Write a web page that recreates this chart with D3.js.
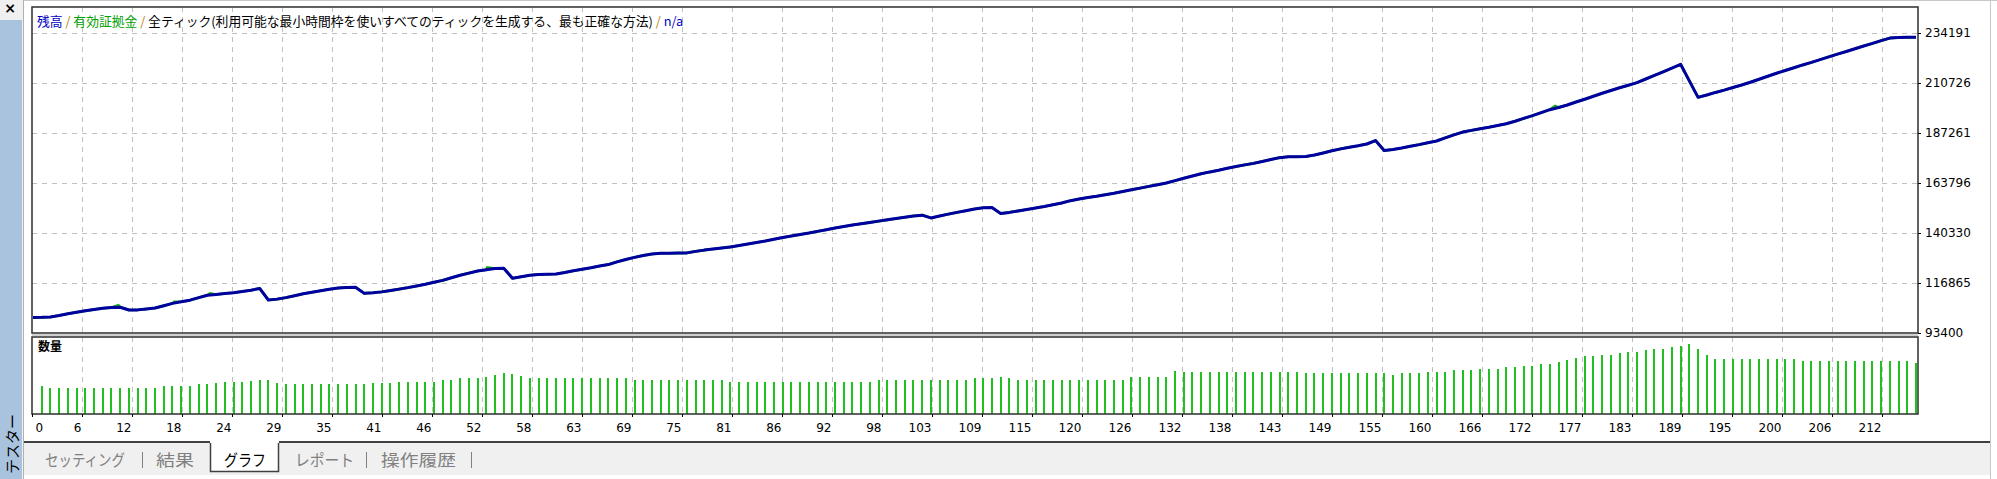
<!DOCTYPE html>
<html><head><meta charset="utf-8">
<script src="https://cdn.jsdelivr.net/npm/d3@7"></script>
<style>
html,body{margin:0;padding:0;background:#fff;}
svg{display:block;}
text{font-family:"DejaVu Sans",sans-serif;}
.jp{font-family:"Noto Sans CJK JP","DejaVu Sans",sans-serif;}
</style></head>
<body>
<svg id="c" width="1997" height="479"></svg>
<script>
// ---- data ----
const balance = [100700,100750,100900,101600,102400,103100,103800,104400,105000,105400,
105500,104200,104250,104700,105100,106200,107300,108100,108800,110000,
111100,111500,111900,112300,112900,113500,114300,108900,109300,110000,
110900,111800,112500,113200,113900,114500,114800,114850,112000,112300,
112700,113300,114000,114700,115500,116300,117200,118100,119300,120500,
121500,122500,123100,123700,123800,119100,119800,120500,120900,121000,
121100,121800,122600,123300,124000,124800,125500,126800,127900,128900,
129800,130500,130800,130850,130900,131000,131700,132300,132800,133300,
133800,134500,135200,135900,136600,137400,138200,138900,139600,140300,
141100,141900,142700,143400,144100,144700,145300,145900,146500,147100,
147700,148300,148700,147400,148300,149200,150000,150800,151600,152200,
152300,149500,150000,150700,151400,152100,152800,153600,154400,155500,
156300,157000,157600,158300,159000,159800,160600,161400,162200,163000,
163800,164900,166000,167100,168100,169000,169800,170700,171500,172300,
173000,173900,174800,175700,176100,176150,176200,176900,177900,178900,
179800,180600,181300,182100,183700,179000,179500,180200,181000,181800,
182700,183500,185000,186400,187700,188500,189300,190000,190800,191600,
192800,194100,195400,196800,198200,199200,200400,201800,203100,204500,
205900,207200,208500,209700,210900,212600,214300,216000,217700,219500,
211700,204000,205100,206300,207400,208600,209800,211100,212500,213900,
215300,216600,217900,219200,220400,221700,223000,224300,225500,226800,
228100,229300,230600,231800,232100,232150,232170];
// floating equity peaks above balance (trade position, equity)
const equityExtra = [[9.8,106400],[16.2,108000],[20.3,112000],[52.1,124200],[174.6,199900]];
// lot size of trades 1..216
const lots = [2.8,
2.6,2.6,2.6,2.6,2.6,2.6,2.6,2.6,2.6,2.6,2.6,2.6,2.6,
2.8,2.8,2.8,2.8, 3.0,3.0, 3.1, 3.2,3.2,3.2, 3.3, 3.4,3.4, 3.1,
3.0,3.0,3.0,3.0,3.0,3.0,3.0,3.0,3.0,3.0,
3.1,3.1,3.1, 3.2,3.2,3.2,3.2,3.2, 3.4,3.4, 3.6,3.6,3.6, 3.7, 3.9, 4.1, 4.0, 3.8,
3.6,3.6,3.6,3.6,3.6,3.6,3.6,3.6,3.6,3.6,3.6,3.6,
3.4,3.4,3.4,3.4,3.4,3.4,3.4,3.4,3.4,3.4,3.4,
3.2,3.2,3.2,3.2,3.2,3.2,3.2,3.2,3.2,3.2,3.2,3.2,3.2,3.2,3.2,3.2,3.2,
3.4,3.4,3.4,3.4,3.4,3.4,3.4,3.4,3.4,3.4,3.4,
3.6,3.6,3.6, 3.7, 3.6,
3.4,3.4,3.4,3.4,3.4,3.4,3.4,3.4,3.4,3.4,3.4,3.4,3.4,
3.7, 3.7,3.7,3.7,3.7, 4.3,
4.2,4.2,4.2,4.2,4.2,4.2,4.2,4.2,4.2,4.2,4.2,4.2,4.2,4.2,
4.1,4.1,4.1,4.1,4.1,4.1,4.1,4.1,4.1,4.1, 3.9, 4.1,4.1,4.1,
4.2,4.2,4.2, 4.4,4.4,4.4, 4.5,4.5,4.5, 4.7,4.7, 4.8,4.8, 5.0,5.0, 5.2, 5.4, 5.6,
5.8,5.8, 5.9,5.9, 6.1, 6.2,6.2, 6.4, 6.5,6.5, 6.7, 6.8, 7.0, 6.5, 5.9,
5.5,5.5,5.5,5.5,5.5,5.5,5.5,5.5,5.5,5.5,
5.3,5.3,5.3,5.3,5.3,5.3,5.3,5.3,5.3,5.3,5.3,5.3,5.3, 5.1];
const yTicks = [93400,116865,140330,163796,187261,210726,234191];
const xLabels = ["0","6","12","18","24","29","35","41","46","52","58","63","69","75","81","86","92","98","103","109","115","120","126","132","138","143","149","155","160","166","172","177","183","189","195","200","206","212"];
const titleParts = [["残高","#0000c0"],[" / ","#c08000"],["有効証拠金","#00a000"],[" / ","#c08000"],["全ティック(利用可能な最小時間枠を使いすべてのティックを生成する、最も正確な方法)","#000"],[" / ","#c08000"],["n/a","#0000c0"]];
const tabs = ["セッティング","結果","グラフ","レポート","操作履歴"];
const lotLabel = "数量";
const sideLabel = "テスター";

// ---- layout ----
const svg = d3.select("#c");
const L = 32, R = 1918, T = 7, B1 = 333, T2 = 337, B2 = 414;

svg.append("rect").attr("width",1997).attr("height",479).attr("fill","#fff");
svg.append("line").attr("x1",24).attr("x2",1997).attr("y1",0.5).attr("y2",0.5).attr("stroke","#c8c8c8");
// left sidebar
svg.append("rect").attr("x",0).attr("y",0).attr("width",23).attr("height",479).attr("fill","#f0f0f0");
svg.append("rect").attr("x",0).attr("y",20).attr("width",22).attr("height",459).attr("fill","#a9c3de");
svg.append("text").attr("x",10).attr("y",13).attr("text-anchor","middle").attr("font-size",14).attr("font-weight","bold").attr("fill","#000").text("×");
svg.append("line").attr("x1",23.5).attr("x2",23.5).attr("y1",0).attr("y2",479).attr("stroke","#b0b0b0");
svg.append("text").attr("class","jp").attr("transform","translate(18,474) rotate(-90)").attr("font-size",15).attr("fill","#000").text(sideLabel);
svg.append("line").attr("x1",1990.5).attr("x2",1990.5).attr("y1",0).attr("y2",479).attr("stroke","#c8c8c8");

// scales
const x = d3.scaleLinear().domain([0, balance.length-1]).range([33, 1916]);
const grid = d3.scaleLinear().domain([0, 1]).range([L, L+50]);
const y = d3.scaleLinear().domain([93400, 234191]).range([B1, 33]);
const ly = d3.scaleLinear().domain([0, 7.7]).range([B2, T2]);

// gridlines
const gU = svg.append("g");
gU.selectAll("line.h").data(yTicks.slice(1)).join("line")
  .attr("x1",L).attr("x2",R).attr("y1",d=>Math.round(y(d))+0.5).attr("y2",d=>Math.round(y(d))+0.5)
  .attr("stroke","#c0c0c0").attr("stroke-dasharray","5,5");
const gridK = d3.range(1, 38);
gU.selectAll("line.v").data(gridK).join("line")
  .attr("x1",d=>grid(d)+0.5).attr("x2",d=>grid(d)+0.5).attr("y1",T).attr("y2",B1)
  .attr("stroke","#c0c0c0").attr("stroke-dasharray","5,5");
svg.append("g").selectAll("line").data(gridK).join("line")
  .attr("x1",d=>grid(d)+0.5).attr("x2",d=>grid(d)+0.5).attr("y1",T2).attr("y2",B2)
  .attr("stroke","#c0c0c0").attr("stroke-dasharray","5,5");

// lines
const pts = balance.map((v,i)=>[i,v]);
const eq = pts.concat(equityExtra).sort((a,b)=>a[0]-b[0]);
const line = d3.line().x(d=>x(d[0])).y(d=>y(d[1]));
svg.append("path").attr("d",line(eq)).attr("fill","none").attr("stroke","#10b010").attr("stroke-width",2.6);
svg.append("path").attr("d",line(pts)).attr("fill","none").attr("stroke","#0000a0").attr("stroke-width",3).attr("stroke-linejoin","round");

// bars
svg.append("g").selectAll("rect").data(lots).join("rect")
  .attr("x",(d,i)=>Math.round(x(i+1))-1).attr("width",2)
  .attr("y",d=>ly(d)).attr("height",d=>B2-ly(d)).attr("fill","#20c020");

// frames
const frame = svg.append("g").attr("fill","none").attr("stroke","#3a3a3a").attr("stroke-width",1.6);
svg.append("rect").attr("x",L).attr("y",B1+1).attr("width",R-L).attr("height",T2-B1-2).attr("fill","#d0d0d0");
frame.append("rect").attr("x",L).attr("y",T).attr("width",R-L).attr("height",B1-T);
frame.append("rect").attr("x",L).attr("y",T2).attr("width",R-L).attr("height",B2-T2);

// y axis (right)
const yAxis = d3.axisRight(y).tickValues(yTicks).tickSize(3).tickPadding(4).tickFormat(d3.format("d"));
const ga = svg.append("g").attr("transform",`translate(${R},0)`).call(yAxis);
ga.select(".domain").remove();
ga.selectAll("line").attr("stroke","#000");
ga.selectAll("text").attr("font-size",12).attr("fill","#000").attr("font-family","DejaVu Sans");

// x axis (bottom)
const xAxis = d3.axisBottom(grid).tickValues(d3.range(38)).tickSize(3).tickPadding(6).tickFormat(k=>xLabels[k]);
const gx = svg.append("g").attr("transform",`translate(0,${B2})`).call(xAxis);
gx.select(".domain").remove();
gx.selectAll("line").attr("stroke","#000");
gx.selectAll("text").attr("font-size",12).attr("fill","#000").attr("font-family","DejaVu Sans")
  .attr("text-anchor",(k)=>k===0?"start":"end").attr("dx",(k)=>k===0?"3":"-1");

// title
const tt = svg.append("text").attr("class","jp").attr("x",37).attr("y",26).attr("font-size",12.8);
tt.selectAll("tspan").data(titleParts).join("tspan").attr("fill",d=>d[1]).text(d=>d[0]);
svg.append("text").attr("class","jp").attr("x",38).attr("y",351).attr("font-size",12).attr("font-weight","bold").attr("fill","#000").text(lotLabel);

// tabs area
svg.append("rect").attr("x",24).attr("y",443).attr("width",1966).attr("height",32).attr("fill","#f0f0f0");
svg.append("line").attr("x1",24).attr("x2",1990).attr("y1",442).attr("y2",442).attr("stroke","#404040").attr("stroke-width",2);
const tabX = [45,156,224,295,381];
const tabW = [80,38,42,59,75];
svg.append("rect").attr("x",210).attr("y",441).attr("width",69).attr("height",31).attr("fill","#fff");
svg.append("path").attr("d","M210.5,443 V471.5 H278.5 V443").attr("fill","none").attr("stroke","#404040").attr("stroke-width",1.5);
svg.selectAll("text.tab").data(tabs).join("text").attr("class","jp tab")
  .attr("x",(d,i)=>tabX[i]).attr("y",466).attr("font-size",16)
  .attr("textLength",(d,i)=>tabW[i]).attr("lengthAdjust","spacingAndGlyphs")
  .attr("fill",(d,i)=>i===2?"#000":"#808080").text(d=>d);
const sepX = [142,366,471];
svg.selectAll("line.sep").data(sepX).join("line").attr("x1",d=>d+0.5).attr("x2",d=>d+0.5)
  .attr("y1",452).attr("y2",468).attr("stroke","#808080");
</script>
</body></html>
